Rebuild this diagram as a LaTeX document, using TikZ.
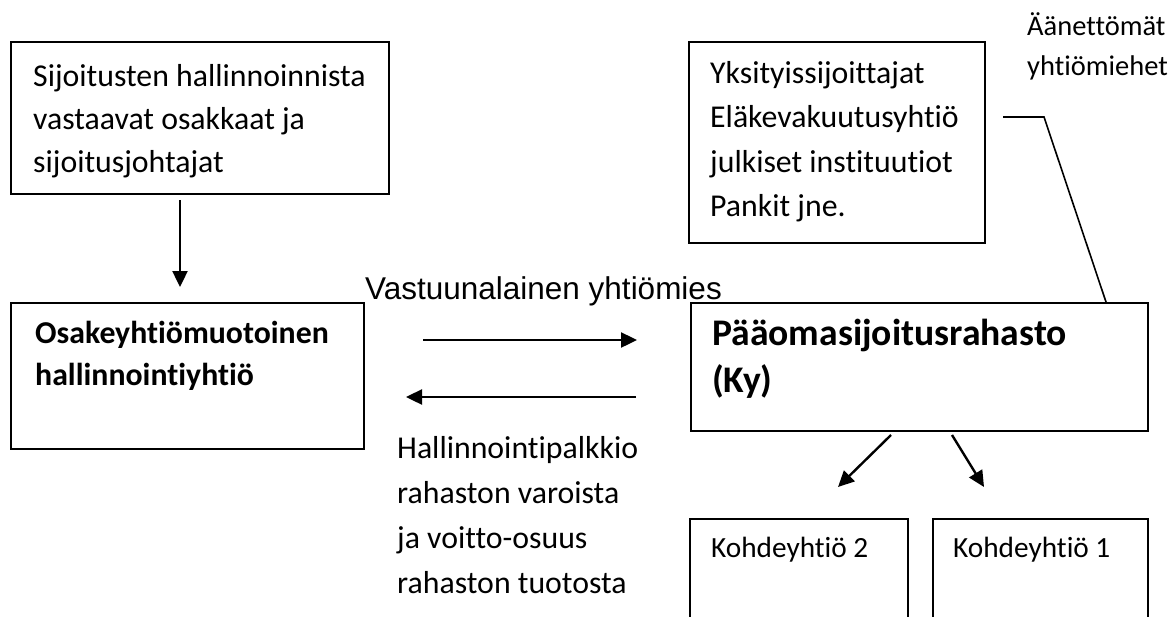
\documentclass[tikz,border=0pt]{standalone}
\usepackage{fontspec}
\setmainfont{Carlito}[Ligatures=NoCommon]
\newfontfamily\arialf{Liberation Sans}
\usetikzlibrary{arrows.meta}
\tikzset{
  box/.style={draw, line width=1.6pt, rectangle, inner sep=0pt, anchor=north west},
  txt/.style={anchor=base west, inner sep=0pt},
  body/.style={font=\fontsize{31.8}{38}\selectfont},
  bodyb/.style={font=\fontsize{31.8}{38}\selectfont\bfseries},
  big/.style={font=\fontsize{37.6}{44}\selectfont\bfseries},
  small/.style={font=\fontsize{28.5}{34}\selectfont},
  kbox/.style={font=\fontsize{29.3}{34}\selectfont},
  arr/.style={line width=2.4pt, -{Triangle[length=16pt,width=15pt]}},
  thin/.style={line width=1.6pt}
}
\begin{document}
\begin{tikzpicture}[x=1pt,y=-1pt]
\useasboundingbox (0,0) rectangle (1172,616);
% boxes
\node[box, minimum width=378pt, minimum height=152pt] (b1) at (10,41) {};
\node[box, minimum width=353pt, minimum height=146pt] (b2) at (10,302) {};
\node[box, minimum width=296pt, minimum height=201pt] (inv) at (688,41) {};
\node[box, minimum width=457pt, minimum height=128pt] (fund) at (690,302) {};
\node[box, minimum width=218pt, minimum height=120pt] (k2) at (689,518) {};
\node[box, minimum width=215pt, minimum height=120pt] (k1) at (932,518) {};
% texts
\node[txt, body] (t1a) at (33,86) {Sijoitusten hallinnoinnista};
\node[txt, body] (t1b) at (33,129.5) {vastaavat osakkaat ja};
\node[txt, body] (t1c) at (33,172) {sijoitusjohtajat};
\node[txt, bodyb] (t2a) at (35,343) {Osakeyhtiömuotoinen};
\node[txt, bodyb] (t2b) at (35,385) {hallinnointiyhtiö};
\node[txt, body] (tia) at (710,83) {Yksityissijoittajat};
\node[txt, body] (tib) at (710,127.5) {Eläkevakuutusyhtiö};
\node[txt, body] (tic) at (710,172) {julkiset instituutiot};
\node[txt, body] (tid) at (710,216) {Pankit jne.};
\node[txt, big] (tfa) at (712,345) {Pääomasijoitusrahasto};
\node[txt, big] (tfb) at (712,392) {(Ky)};
\node[txt, small] (tsa) at (1027,35) {Äänettömät};
\node[txt, small] (tsb) at (1027,75) {yhtiömiehet};
\node[txt, font=\arialf\fontsize{31.5}{38}\selectfont] (tvas) at (365,299) {Vastuunalainen yhtiömies};
\node[txt, body] (tha) at (397,458) {Hallinnointipalkkio};
\node[txt, body] (thb) at (397,503) {rahaston varoista};
\node[txt, body] (thc) at (397,548) {ja voitto-osuus};
\node[txt, body] (thd) at (397,593) {rahaston tuotosta};
\node[txt, kbox] (tk2) at (711,557) {Kohdeyhtiö 2};
\node[txt, kbox] (tk1) at (953,557) {Kohdeyhtiö 1};
% connector coordinates
\coordinate (v1) at (180,200);
\coordinate (v2) at (180,287);
\coordinate (r1) at (423,340);
\coordinate (r2) at (637,340);
\coordinate (l1) at (636,397);
\coordinate (l2) at (406,397);
\coordinate (d1a) at (891,435);
\coordinate (d1b) at (838,487);
\coordinate (d2a) at (952,435);
\coordinate (d2b) at (984,487);
\coordinate (s1) at (1003,117);
\coordinate (s2) at (1044,117);
\coordinate (s3) at (1106,302);
% connectors
\draw[arr] (v1) -- (v2);
\draw[arr] (r1) -- (r2);
\draw[arr] (l1) -- (l2);
\draw[arr] (d1a) -- (d1b);
\draw[arr] (d2a) -- (d2b);
\draw[thin] (s1) -- (s2) -- (s3);
\end{tikzpicture}
\end{document}
